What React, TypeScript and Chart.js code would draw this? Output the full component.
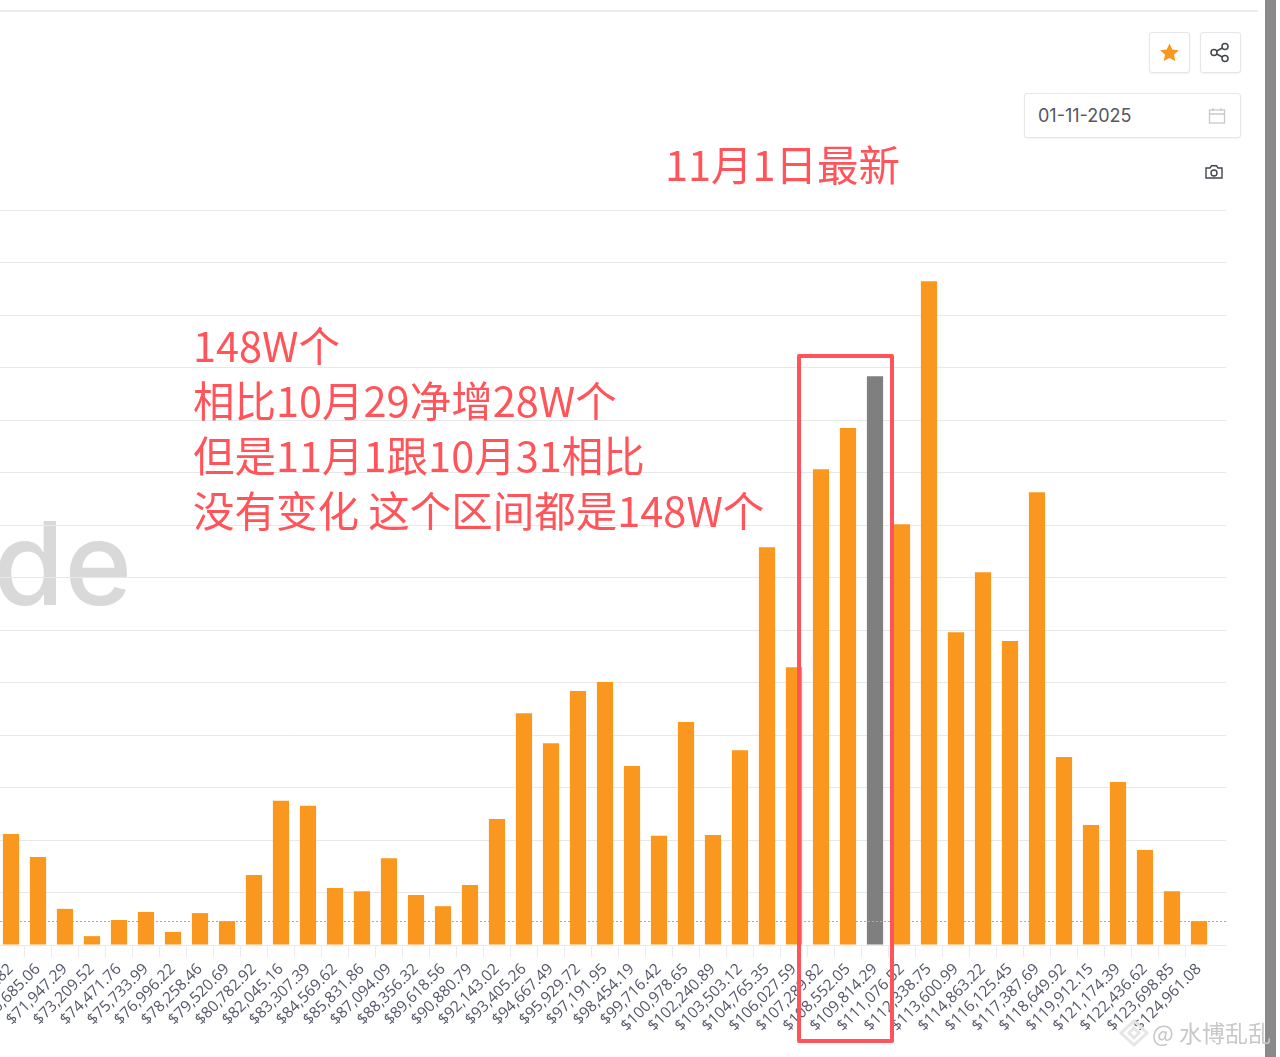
import React, { useEffect, useRef } from "react";
import { Chart, registerables } from "chart.js";

Chart.register(...registerables);

const priceLabels = [
  "", "$69,422.82", "$70,685.06", "$71,947.29", "$73,209.52", "$74,471.76", "$75,733.99", "$76,996.22", "$78,258.46",
  "$79,520.69", "$80,782.92", "$82,045.16", "$83,307.39", "$84,569.62", "$85,831.86", "$87,094.09", "$88,356.32",
  "$89,618.56", "$90,880.79", "$92,143.02", "$93,405.26", "$94,667.49", "$95,929.72", "$97,191.95", "$98,454.19",
  "$99,716.42", "$100,978.65", "$102,240.89", "$103,503.12", "$104,765.35", "$106,027.59", "$107,289.82",
  "$108,552.05", "$109,814.29", "$111,076.52", "$112,338.75", "$113,600.99", "$114,863.22", "$116,125.45",
  "$117,387.69", "$118,649.92", "$119,912.15", "$121,174.39", "$122,436.62", "$123,698.85", "$124,961.08", "",
];

// Supply per price bucket, in units of 10,000 (W)
const supplyValues = [
  null, 28.9, 22.9, 9.4, 2.3, 6.5, 8.6, 3.4, 8.3, 6.2, 18.2, 37.5, 36.2, 14.8, 14.0, 22.6, 13.0, 10.1, 15.6, 32.8,
  60.3, 52.5, 66.1, 68.4, 46.6, 28.4, 58.0, 28.6, 50.7, 103.5, 72.3, 123.8, 134.5, 148, 109.5, 172.7, 81.4, 97.0,
  79.1, 117.8, 48.9, 31.2, 42.4, 24.7, 14.0, 6.2, null,
];

const highlightedLabel = "$109,814.29";
const referenceLevel = 6.24;
const yMax = 191.24;
const yStep = 13.66;

const ORANGE = "#fa971e";
const GREY = "#7f7f7f";
const RED = "#ff5459";
const CJK = '"Noto Sans CJK SC", "Noto Sans", sans-serif';

const noteLines = ["148W个", "相比10月29净增28W个", "但是11月1跟10月31相比", "没有变化 这个区间都是148W个"];

const box: React.CSSProperties = {
  position: "absolute",
  boxSizing: "border-box",
  border: "1px solid #e6e6e8",
  borderRadius: 3,
  background: "#fff",
  boxShadow: "0 1px 2px rgba(0,0,0,0.05)",
};

export default function App() {
  const ref = useRef<HTMLCanvasElement | null>(null);

  useEffect(() => {
    document.body.style.margin = "0";
    document.body.style.overflow = "hidden";
    const refLine = {
      id: "refLine",
      afterDatasetsDraw(chart: any) {
        const { ctx, chartArea, scales } = chart;
        const y = Math.round(scales.y.getPixelForValue(referenceLevel)) + 0.5;
        ctx.save();
        ctx.strokeStyle = "#a8a8a8";
        ctx.lineWidth = 1;
        ctx.setLineDash([2, 2]);
        ctx.beginPath();
        ctx.moveTo(chartArea.left, y);
        ctx.lineTo(chartArea.right, y);
        ctx.stroke();
        ctx.restore();
      },
    };
    const chart = new Chart(ref.current!, {
      type: "bar",
      data: {
        labels: priceLabels,
        datasets: [
          {
            data: supplyValues as any,
            backgroundColor: priceLabels.map((l) => (l === highlightedLabel ? GREY : ORANGE)),
            barPercentage: 0.6,
            categoryPercentage: 1,
          },
        ],
      },
      plugins: [refLine],
      options: {
        animation: false,
        responsive: false,
        devicePixelRatio: 1,
        layout: { padding: { left: 14, right: 0, top: 60, bottom: 0 }, autoPadding: false },
        plugins: { legend: { display: false }, tooltip: { enabled: false } },
        scales: {
          x: {
            offset: false,
            afterFit(scale: any) {
              scale.height = 112;
              scale.paddingLeft = 0;
              scale.paddingRight = 0;
            },
            border: { display: false },
            grid: {
              drawOnChartArea: false,
              drawTicks: true,
              tickLength: 12,
              color: (c: any) => (priceLabels[c.index] ? "#ececec" : "transparent"),
            },
            ticks: {
              autoSkip: false,
              minRotation: 45,
              maxRotation: 45,
              padding: 3,
              color: "#55586a",
              font: { family: '"Open Sans", sans-serif', size: 15.5 },
            },
          },
          y: {
            min: 0,
            max: yMax,
            afterFit(scale: any) {
              scale.width = 0;
            },
            border: { display: false },
            grid: { color: "#e8e8e8", drawTicks: false },
            ticks: { display: false, stepSize: yStep },
          },
        },
      },
    } as any);
    return () => chart.destroy();
  }, []);

  return (
    <div style={{ position: "absolute", left: 0, top: 0, width: 1280, height: 1057, overflow: "hidden", background: "#fff" }}>
      <div style={{ position: "absolute", left: 0, top: 10, width: 1258, height: 2, background: "#ececec" }} />
      <div style={{ position: "absolute", left: 1265, top: 0, width: 11, height: 1057, background: "#8a8a8a" }} />

      <div
        style={{
          position: "absolute",
          right: 1280 - 132,
          top: 489,
          fontFamily: "Inter, sans-serif",
          fontWeight: 500,
          fontSize: 115,
          lineHeight: "150px",
          color: "#d9d9d9",
        }}
      >
        de
      </div>

      <canvas ref={ref} width={1256} height={907} style={{ position: "absolute", left: -30, top: 150, width: 1256, height: 907 }} />

      {/* toolbar */}
      <div style={{ ...box, left: 1149, top: 32, width: 41, height: 41 }}>
        <svg width="39" height="39" viewBox="0 0 39 39">
          <path d="M19.5 10.5l2.8 6 6.5.8-4.8 4.4 1.3 6.4-5.8-3.2-5.8 3.2 1.3-6.4-4.8-4.4 6.5-.8z" fill={ORANGE} />
        </svg>
      </div>
      <div style={{ ...box, left: 1200, top: 32, width: 41, height: 41 }}>
        <svg width="39" height="39" viewBox="0 0 39 39" fill="none" stroke="#44464f" strokeWidth="1.5" style={{ marginLeft: -1 }}>
          <circle cx="25" cy="13.5" r="3" />
          <circle cx="14" cy="19.5" r="3" />
          <circle cx="25" cy="25.5" r="3" />
          <path d="M16.7 18l5.6-3M16.7 21l5.6 3" />
        </svg>
      </div>
      <div style={{ ...box, left: 1024, top: 93, width: 217, height: 45 }}>
        <span
          style={{
            position: "absolute",
            left: 13,
            top: 0,
            lineHeight: "44px",
            fontFamily: "Inter, sans-serif",
            fontSize: 18,
            color: "#55565f",
          }}
        >
          01-11-2025
        </span>
        <svg style={{ position: "absolute", left: 183, top: 13 }} width="18" height="18" viewBox="0 0 18 18" fill="none" stroke="#c9c9cc" strokeWidth="1.3">
          <rect x="1.5" y="3" width="15" height="13" />
          <path d="M1.5 7h15M5 1v3M13 1v3" />
        </svg>
      </div>
      <svg style={{ position: "absolute", left: 1204, top: 163 }} width="20" height="18" viewBox="0 0 20 18" fill="none" stroke="#44464f" strokeWidth="1.4">
        <path d="M2 5h4l1.5-2.2h5L14 5h4v10H2z" />
        <circle cx="10" cy="10" r="3" />
      </svg>

      {/* annotations */}
      <div style={{ position: "absolute", left: 665, top: 133, fontFamily: CJK, fontSize: 41.5, fontWeight: 400, lineHeight: "60px", color: RED, whiteSpace: "nowrap" }}>
        11月1日最新
      </div>
      <div style={{ position: "absolute", left: 193, top: 317, fontFamily: CJK, fontSize: 41.5, fontWeight: 400, lineHeight: "55px", color: RED, whiteSpace: "nowrap" }}>
        {noteLines.map((l) => (
          <div key={l}>{l}</div>
        ))}
      </div>
      <div
        style={{
          position: "absolute",
          left: 797,
          top: 354,
          width: 97,
          height: 689,
          boxSizing: "border-box",
          border: `4px solid ${RED}`,
          borderRadius: 2,
        }}
      />

      {/* image watermark */}
      <svg style={{ position: "absolute", left: 1118, top: 1018 }} width="32" height="30" viewBox="0 0 32 30" fill="none" stroke="#e6e6e6" strokeWidth="3">
        <path d="M16 3l13 12-13 12L3 15z" />
        <path d="M16 10l5 5-5 5-5-5z" />
      </svg>
      <div
        style={{
          position: "absolute",
          left: 1152,
          top: 1016,
          fontFamily: CJK,
          fontSize: 23,
          lineHeight: "32px",
          color: "#c8c8c8",
          whiteSpace: "nowrap",
        }}
      >
        @ 水博乱乱
      </div>
    </div>
  );
}
